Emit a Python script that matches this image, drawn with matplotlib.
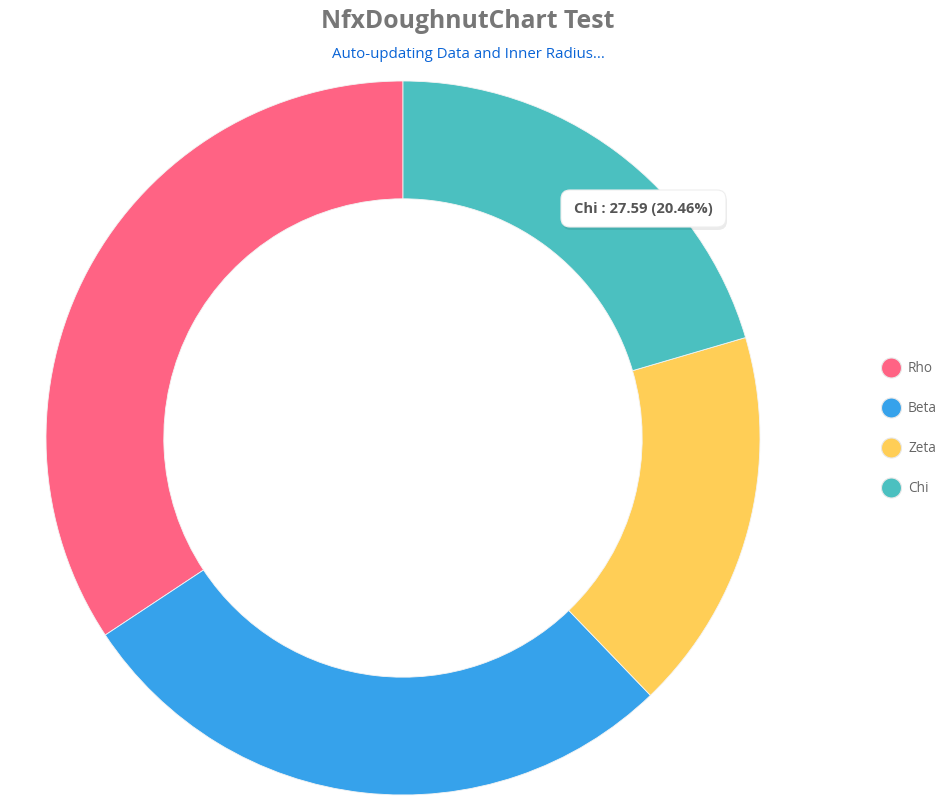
import matplotlib
matplotlib.use('Agg')
import matplotlib.pyplot as plt
from matplotlib.patches import FancyBboxPatch, Circle

plt.rcParams['font.family'] = ['Open Sans', 'DejaVu Sans']

labels = ['Rho', 'Beta', 'Zeta', 'Chi']
values = [46.26, 37.6, 23.4, 27.59]
colors = ['#FF6384', '#36A2EB', '#FFCE56', '#4BC0C0']
tip_index = 3

W, H = 947, 800
fig = plt.figure(figsize=(W / 100, H / 100), dpi=100)

# doughnut: centre ~(403, 438) px, outer radius ~357 px
cx, cy, r = 403, 438, 357
ax = fig.add_axes([(cx - r) / W, (H - cy - r) / H, 2 * r / W, 2 * r / H])
ax.pie(values, colors=colors, startangle=90, counterclock=True, radius=1,
       wedgeprops=dict(width=0.33, edgecolor='#f4f4f4', linewidth=0.6))
ax.set_xlim(-1, 1)
ax.set_ylim(-1, 1)
ax.set_aspect('equal')
ax.axis('off')

def fx(px):
    return px / W

def fy(py):
    return 1 - py / H

fig.text(fx(468), fy(21), 'NfxDoughnutChart Test', ha='center', va='center',
         fontsize=17.8, fontweight='bold', color='#777777')
fig.text(fx(468), fy(55), 'Auto-updating Data and Inner Radius...', ha='center', va='center',
         fontsize=10.8, color='#0a64d6')

# legend
for i, (lab, col) in enumerate(zip(labels, colors)):
    y = 368 + 40 * i
    fig.patches.append(Circle((891.5, H - y), 10, transform=None, facecolor=col,
                              edgecolor='#e8e8e8', linewidth=0.8, zorder=3))
    fig.text(fx(908), fy(y), lab, ha='left', va='center', fontsize=9.8, color='#666666')

# tooltip
total = sum(values)
tip = '%s : %.2f (%.2f%%)' % (labels[tip_index], values[tip_index], 100 * values[tip_index] / total)
x0, y0, bw, bh = 561, 190, 165, 37
shadow = FancyBboxPatch((x0 + 1, H - y0 - bh - 3), bw, bh, boxstyle='round,pad=0,rounding_size=9',
                        transform=None, facecolor='#000000', alpha=0.08, edgecolor='none', zorder=4)
box = FancyBboxPatch((x0, H - y0 - bh), bw, bh, boxstyle='round,pad=0,rounding_size=9',
                     transform=None, facecolor='white', edgecolor='#eeeeee', linewidth=0.8, zorder=5)
fig.patches.extend([shadow, box])
fig.text(fx(x0 + bw / 2), fy(y0 + bh / 2), tip, ha='center', va='center', fontsize=10.6,
         fontweight='bold', color='#555555', zorder=6)

fig.savefig('out.png', dpi=100)
